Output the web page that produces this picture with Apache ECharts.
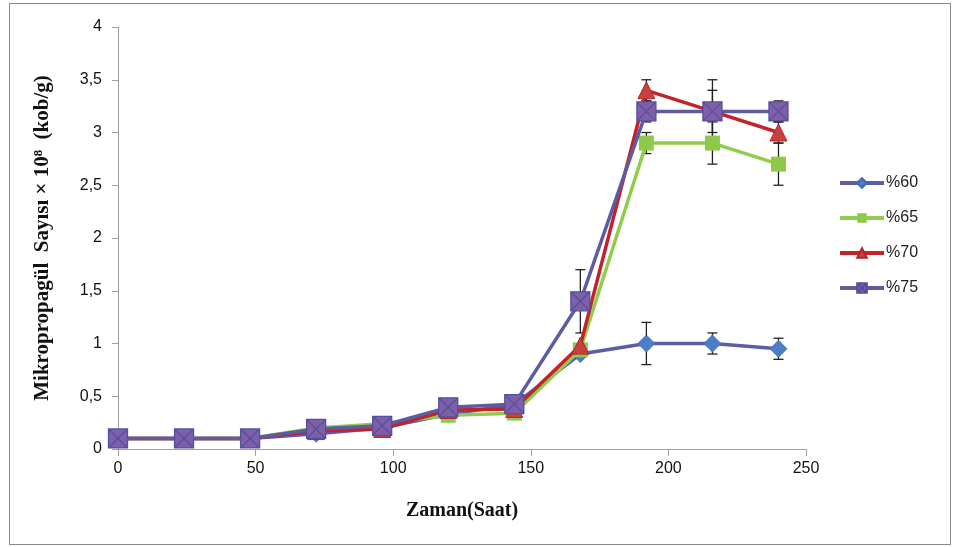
<!DOCTYPE html>
<html>
<head>
<meta charset="utf-8">
<script src="https://cdn.jsdelivr.net/npm/echarts@6/dist/echarts.min.js"></script>
<style>
  html, body { margin: 0; padding: 0; background: #fff; }
  #frame { position: absolute; left: 9px; top: 3px; width: 942px; height: 542px; border: 1px solid #8a8a8a; box-sizing: border-box; }
  #chart { position: absolute; left: 0; top: 0; width: 958px; height: 547px; }
</style>
</head>
<body>
<div id="frame"></div>
<div id="chart"></div>
<script>
// Sampling times (hours)
const hours = [0, 24, 48, 72, 96, 120, 144, 168, 192, 216, 240];

// Mean counts (x10^8 cfu/g) per moisture level
const p60 = [0.1, 0.1, 0.1, 0.145, 0.2, 0.33, 0.42, 0.9, 1.0, 1.0, 0.95];
const p65 = [0.1, 0.1, 0.1, 0.2, 0.24, 0.32, 0.34, 0.94, 2.9, 2.9, 2.7];
const p70 = [0.1, 0.1, 0.1, 0.17, 0.19, 0.37, 0.38, 0.98, 3.4, 3.2, 3.0];
const p75 = [0.1, 0.1, 0.1, 0.19, 0.22, 0.395, 0.425, 1.4, 3.2, 3.2, 3.2];

// Standard deviations (0 where no bar is shown)
const e60 = [0, 0, 0, 0, 0, 0, 0, 0, 0.2, 0.1, 0.1];
const e65 = [0, 0, 0, 0, 0, 0, 0, 0, 0.1, 0.2, 0.2];
const e70 = [0, 0, 0, 0, 0, 0, 0, 0, 0.1, 0.2, 0.1];
const e75 = [0, 0, 0, 0, 0, 0, 0, 0.3, 0.1, 0.3, 0.1];

const seriesNames = ['%60', '%65', '%70', '%75'];
const yTicks = [0, 0.5, 1, 1.5, 2, 2.5, 3, 3.5, 4];

const pairs = (vals) => hours.map((h, i) => [h, vals[i]]);
const errData = (vals, errs) => hours
  .map((h, i) => [h, vals[i] - errs[i], vals[i] + errs[i]])
  .filter((d, i) => errs[i] > 0);

function errorSeries(vals, errs) {
  return {
    type: 'custom',
    z: 1,
    silent: true,
    data: errData(vals, errs),
    renderItem: function (params, api) {
      const x = api.value(0);
      const lo = api.coord([x, api.value(1)]);
      const hi = api.coord([x, api.value(2)]);
      const w = 5;
      const style = { stroke: '#222', lineWidth: 1.3 };
      return {
        type: 'group',
        children: [
          { type: 'line', shape: { x1: lo[0], y1: lo[1], x2: hi[0], y2: hi[1] }, style: style },
          { type: 'line', shape: { x1: lo[0] - w, y1: lo[1], x2: lo[0] + w, y2: lo[1] }, style: style },
          { type: 'line', shape: { x1: hi[0] - w, y1: hi[1], x2: hi[0] + w, y2: hi[1] }, style: style }
        ]
      };
    }
  };
}

const boxCross = 'path://M0,0H20V20H0Z M0,0L20,20 M20,0L0,20';

const chart = echarts.init(document.getElementById('chart'), null, { renderer: 'canvas' });
chart.setOption({
  animation: false,
  backgroundColor: 'transparent',
  grid: { left: 118, right: 152, top: 27, bottom: 98 },
  xAxis: {
    type: 'value',
    min: 0, max: 250, interval: 50,
    name: 'Zaman(Saat)',
    nameLocation: 'middle',
    nameGap: 52,
    nameTextStyle: { fontFamily: 'Liberation Serif', fontWeight: 'bold', fontSize: 20, color: '#111' },
    axisLine: { lineStyle: { color: '#a0a0a0', width: 1 } },
    axisTick: { show: true, length: 7, lineStyle: { color: '#a0a0a0' } },
    axisLabel: { margin: 12, fontFamily: 'Liberation Sans', fontSize: 16, color: '#111' },
    splitLine: { show: false }
  },
  yAxis: {
    type: 'value',
    min: 0, max: 4, interval: 0.5,
    name: 'Mikropropagül  Sayısı × 10⁸  (kob/g)',
    nameLocation: 'middle',
    nameGap: 65,
    nameTextStyle: { fontFamily: 'Liberation Serif', fontWeight: 'bold', fontSize: 21, color: '#111' },
    axisLine: { show: true, lineStyle: { color: '#a0a0a0', width: 1 } },
    axisTick: { show: true, length: 6, lineStyle: { color: '#a0a0a0' } },
    axisLabel: {
      margin: 16,
      fontFamily: 'Liberation Sans', fontSize: 16, color: '#111',
      formatter: (v) => {
        const t = yTicks.find((k) => Math.abs(k - v) < 1e-9);
        return String(t === undefined ? v : t).replace('.', ',');
      }
    },
    splitLine: { show: false }
  },
  legend: {
    orient: 'vertical',
    left: 833,
    top: 170,
    itemWidth: 44,
    itemHeight: 12,
    itemGap: 19,
    lineStyle: { width: 4 },
    textStyle: { fontFamily: 'Liberation Sans', fontSize: 16, color: '#222', padding: [0, 0, 0, -3] },
    data: seriesNames
  },
  series: [
    errorSeries(p60, e60),
    errorSeries(p65, e65),
    errorSeries(p70, e70),
    errorSeries(p75, e75),
    {
      name: seriesNames[0], type: 'line', z: 2, data: pairs(p60),
      symbol: 'diamond', symbolSize: 17,
      lineStyle: { color: '#5b5ea6', width: 3.5 },
      itemStyle: { color: '#4a7ec6', borderColor: '#3f6aab', borderWidth: 0.8 }
    },
    {
      name: seriesNames[1], type: 'line', z: 3, data: pairs(p65),
      symbol: 'rect', symbolSize: 15,
      lineStyle: { color: '#92cc4c', width: 3.5 },
      itemStyle: { color: '#8fc94a' }
    },
    {
      name: seriesNames[2], type: 'line', z: 4, data: pairs(p70),
      symbol: 'triangle', symbolSize: 17,
      lineStyle: { color: '#c4222b', width: 3.5 },
      itemStyle: { color: '#c9403f', borderColor: '#b0262c', borderWidth: 1 }
    },
    {
      name: seriesNames[3], type: 'line', z: 5, data: pairs(p75),
      symbol: boxCross, symbolSize: 19,
      lineStyle: { color: '#5d5ca0', width: 3.5 },
      itemStyle: { color: '#7e5fa8', borderColor: '#5350a0', borderWidth: 1.3 }
    }
  ]
});
</script>
</body>
</html>
